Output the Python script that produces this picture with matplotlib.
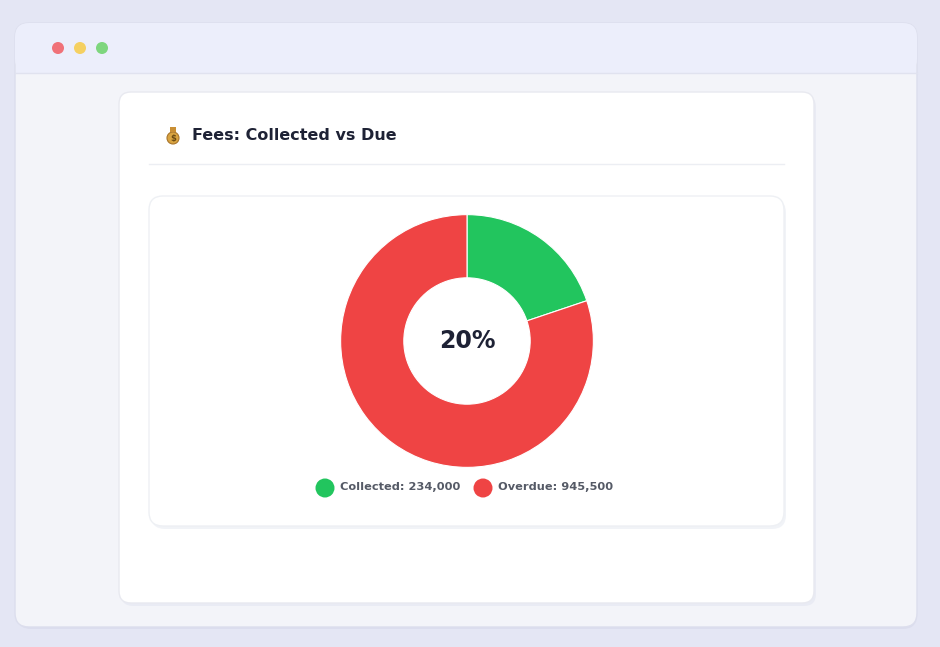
import matplotlib.pyplot as plt
from matplotlib.patches import FancyBboxPatch, Circle, Rectangle

labels = ["Collected", "Overdue"]
amounts = [234000, 945500]
colors = ["#22c55e", "#ef4444"]

W, H = 940, 647
fig = plt.figure(figsize=(W / 100, H / 100), dpi=100)
fig.patch.set_facecolor("#e4e6f4")

# pixel-space background axes
bg = fig.add_axes([0, 0, 1, 1])
bg.set_xlim(0, W)
bg.set_ylim(H, 0)
bg.axis("off")

# browser window
bg.add_patch(FancyBboxPatch((17, 27), 900, 602, boxstyle="round,pad=0,rounding_size=14",
                            fc="#d6d8ea", ec="none", alpha=0.6))
bg.add_patch(FancyBboxPatch((15, 23), 902, 604, boxstyle="round,pad=0,rounding_size=14",
                            fc="#f3f4f9", ec="#dcdeed", lw=1))
bg.add_patch(FancyBboxPatch((15, 23), 902, 50, boxstyle="round,pad=0,rounding_size=14",
                            fc="#eceefb", ec="none"))
bg.add_patch(Rectangle((16, 55), 900, 18, fc="#eceefb", ec="none"))
bg.plot([15, 917], [73, 73], color="#e0e2ef", lw=1)
for x, c in [(58, "#f07178"), (80, "#f5d061"), (102, "#7ed67e")]:
    bg.add_patch(Circle((x, 48), 6, fc=c, ec="none"))

# outer card
bg.add_patch(FancyBboxPatch((121, 95), 695, 511, boxstyle="round,pad=0,rounding_size=12",
                            fc="#e6e8f2", ec="none", alpha=0.7))
bg.add_patch(FancyBboxPatch((119, 92), 695, 511, boxstyle="round,pad=0,rounding_size=12",
                            fc="white", ec="#e8e9f0", lw=1))

# money bag icon
bg.add_patch(Circle((173, 138), 6, fc="#d9a441", ec="#a8742a", lw=0.8))
bg.add_patch(Rectangle((170, 127), 6, 5, fc="#c98f35", ec="none"))
bg.text(173, 139, "$", fontsize=6, color="#6b4a12", ha="center", va="center", fontweight="bold")
bg.text(192, 136, "Fees: Collected vs Due", fontsize=11.5, fontweight="bold",
        color="#1e2235", ha="left", va="center")
bg.plot([149, 784], [164, 164], color="#eceef3", lw=1)

# inner card
bg.add_patch(FancyBboxPatch((151, 199), 635, 330, boxstyle="round,pad=0,rounding_size=14",
                            fc="#eef0f6", ec="none", alpha=0.8))
bg.add_patch(FancyBboxPatch((149, 196), 635, 330, boxstyle="round,pad=0,rounding_size=14",
                            fc="white", ec="#eef0f4", lw=1))

# donut
cx, cy, r = 467, 341, 127
ax = fig.add_axes([(cx - r) / W, (H - cy - r) / H, 2 * r / W, 2 * r / H])
ax.pie(amounts, colors=colors, startangle=90, counterclock=False,
       wedgeprops=dict(width=0.5, edgecolor="white", linewidth=0.8))
ax.set_xlim(-1.005, 1.005)
ax.set_ylim(-1.005, 1.005)
ax.set_aspect("equal")
pct = round(100 * amounts[0] / sum(amounts))
ax.text(0, 0, f"{pct}%", fontsize=17, fontweight="bold", color="#1e2235",
        ha="center", va="center")

# legend
lx = [325, 483]
for x, lab, val, c in zip(lx, labels, amounts, colors):
    bg.add_patch(Circle((x, 488), 9.5, fc=c, ec="none"))
    bg.text(x + 15, 487, f"{lab}: {val:,}", fontsize=8.2, fontweight="bold",
            color="#555a66", ha="left", va="center")

fig.savefig("out.png", dpi=100, facecolor=fig.get_facecolor())
